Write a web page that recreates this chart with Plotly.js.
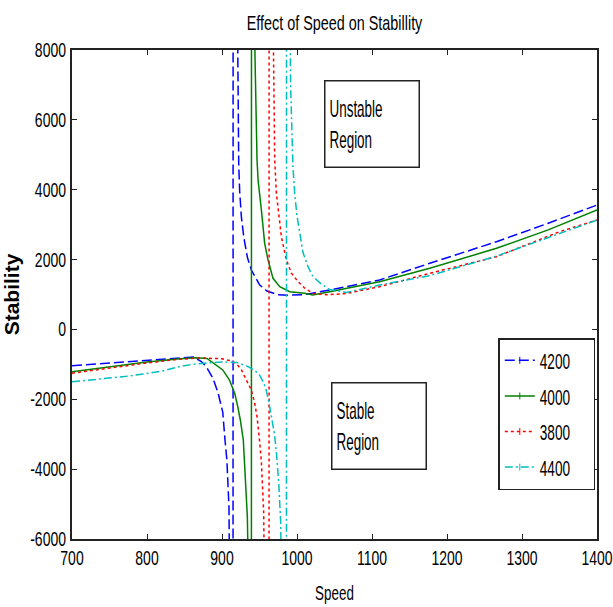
<!DOCTYPE html>
<html>
<head>
<meta charset="utf-8">
<script src="https://cdn.plot.ly/plotly-3.0.1.min.js"></script>
<style>html,body{margin:0;padding:0;background:#fff;}#chart{width:613px;height:607px;}</style>
</head>
<body>
<div id="chart"></div>
<script>
// Series names (legend order)
var seriesNames = ["4200", "4000", "3800", "4400"];

// 4200: speed / stability (values far outside the axis are the off-scale asymptote points)
var speed4200 = [700, 750, 800, 840, 862, 872.5, 879, 888, 895, 897, 901, 904, 906.5, 909.3, 910.5, 912, 914.5,
  915, 919.5, 921, 922.3, 923.6, 925.8, 929.3, 934, 939.2, 950.3, 960, 974.7, 990, 1010, 1043.6, 1066, 1110, 1177, 1266, 1335, 1400];
var stab4200 = [-1040, -960, -880, -810, -790, -920, -1067, -1400, -1830, -2020, -2364, -3166, -3740, -5080, -6800, -12000, -50000,
  50000, 12000, 7000, 4707, 3945, 3229, 2608, 2050, 1701, 1272, 1100, 990, 980, 995, 1130, 1224, 1415, 1893, 2512, 3040, 3562];

// 4000
var speed4000 = [700, 750, 800, 840, 865, 880, 890, 901, 910, 917, 921, 924.5, 928.4, 931.6, 933.8, 935, 937, 939,
  939.5, 942.5, 944, 946.7, 948.1, 952.5, 956.9, 961.4, 968, 977, 990.3, 1010, 1021, 1043.6, 1066, 1110, 1177, 1266, 1335, 1400];
var stab4000 = [-1210, -1060, -930, -850, -810, -830, -980, -1160, -1450, -1830, -2210, -2600, -3166, -4300, -5360, -6800, -12000, -50000,
  50000, 12000, 7800, 4851, 4278, 3419, 2465, 1988, 1463, 1224, 1081, 1034, 986, 1081, 1180, 1367, 1750, 2322, 2850, 3419];

// 3800
var speed3800 = [700, 750, 800, 840, 870, 900, 910, 919, 926, 932.5, 939, 943.6, 946.7, 950, 952.6, 955.6, 957, 960, 962.5,
  963, 966.5, 968.5, 970.3, 972.5, 974.7, 979.2, 985.9, 992.5, 1001.4, 1010.3, 1021.7, 1040, 1066, 1110, 1177, 1266, 1350, 1400];
var stab3800 = [-1254, -1100, -960, -860, -815, -840, -890, -970, -1160, -1450, -1730, -2110, -2500, -3170, -3830, -5260, -7000, -15000, -50000,
  50000, 12000, 7000, 4850, 3900, 3420, 2650, 1990, 1610, 1370, 1180, 1030, 990, 1030, 1224, 1606, 2082, 2798, 3133];

// 4400
var speed4400 = [700, 730, 770, 800, 820, 840, 860, 880, 900, 920, 935, 945, 950, 955, 959, 963.6, 966, 970, 972.6, 975.7, 978.3, 980, 983, 985.7,
  986.2, 989.5, 991.5, 994.5, 996.9, 1000, 1003.6, 1008, 1014.7, 1020, 1026, 1032.5, 1043.6, 1066, 1110, 1177, 1266, 1376, 1400];
var stab4400 = [-1497, -1430, -1350, -1260, -1190, -1080, -1000, -960, -930, -950, -1067, -1200, -1305, -1500, -1734, -2211, -2550, -3000, -3546, -4406, -5551, -7500, -15000, -50000,
  50000, 12000, 7000, 4700, 3900, 3250, 2720, 2200, 1796, 1560, 1420, 1300, 1140, 1060, 1270, 1540, 2100, 2941, 3130];

// Axis ticks
var xTickVals = [700, 800, 900, 1000, 1100, 1200, 1300, 1400];
var xTickText = ["700", "800", "900", "1000", "1100", "1200", "1300", "1400"];
var yTickVals = [8000, 6000, 4000, 2000, 0, -2000, -4000, -6000];
var yTickText = ["8000", "6000", "4000", "2000", "0", "-2000", "-4000", "-6000"];

var colors = ["#0000ff", "#008000", "#ff0000", "#00bfbf"];
var dashes = ["10px,4px", "solid", "3px,3px", "8px,3px,2px,3px"];
var xs = [speed4200, speed4000, speed3800, speed4400];
var ys = [stab4200, stab4000, stab3800, stab4400];

var FONT = "'Liberation Sans', Arial, sans-serif";

var traces = [];
for (var i = 0; i < 4; i++) {
  traces.push({
    type: "scatter", mode: "lines", x: xs[i], y: ys[i], name: seriesNames[i],
    line: {color: colors[i], width: 1.5, dash: dashes[i]},
    showlegend: false, hoverinfo: "skip"
  });
}
for (var j = 0; j < 4; j++) {
  traces.push({
    type: "scatter", mode: "lines+markers", x: [null], y: [null], name: seriesNames[j],
    legendgroup: "g" + j,
    line: {color: colors[j], width: 1.5, dash: dashes[j]},
    marker: {symbol: "line-ns-open", size: 5, color: colors[j], line: {color: colors[j], width: 1}},
    showlegend: true
  });
}

var layout = {
  width: 613, height: 607,
  margin: {l: 72, r: 16, t: 50, b: 68},
  paper_bgcolor: "#fff", plot_bgcolor: "#fff",
  font: {family: FONT, size: 20, color: "#000"},
  title: {text: "Effect of Speed on Stabillity", x: 0.5, xref: "paper", y: 1 - 23 / 607, yanchor: "middle",
    font: {family: FONT, size: 20, color: "#000"}},
  xaxis: {
    range: [700, 1400], tickvals: xTickVals, ticktext: xTickText, ticklabeloverflow: "allow",
    showgrid: false, zeroline: false, showline: true, linecolor: "#222", linewidth: 2,
    mirror: "ticks", ticks: "inside", ticklen: 5, tickcolor: "#222", tickwidth: 1,
    tickfont: {family: FONT, size: 20, color: "#000"},
    title: {text: "Speed", font: {family: FONT, size: 20, color: "#000"}, standoff: 18}
  },
  yaxis: {
    range: [-6000, 8000], tickvals: yTickVals, ticktext: yTickText, ticklabeloverflow: "allow",
    showgrid: false, zeroline: false, showline: true, linecolor: "#222", linewidth: 2,
    mirror: "ticks", ticks: "inside", ticklen: 5, tickcolor: "#222", tickwidth: 1,
    tickfont: {family: FONT, size: 20, color: "#000"},
    title: {text: "<b>Stability</b>", font: {family: FONT, size: 21, color: "#000"}, standoff: 3}
  },
  legend: {
    x: 0.812, y: 0.411, xanchor: "left", yanchor: "top",
    bgcolor: "#fff", bordercolor: "#222", borderwidth: 1.5,
    font: {family: FONT, size: 22, color: "#000"},
    traceorder: "grouped", tracegroupgap: 4, itemwidth: 30
  },
  annotations: [
    {xref: "paper", yref: "paper", x: 0.48, y: 0.939, xanchor: "left", yanchor: "top",
     text: "Unstable<br>Region", showarrow: false, align: "left", valign: "middle",
     width: 85, height: 77, borderpad: 4, bordercolor: "#222", borderwidth: 1.5, bgcolor: "#fff",
     font: {family: FONT, size: 24, color: "#000"}},
    {xref: "paper", yref: "paper", x: 0.493, y: 0.321, xanchor: "left", yanchor: "top",
     text: "Stable<br>Region", showarrow: false, align: "left", valign: "middle",
     width: 85, height: 77, borderpad: 4, bordercolor: "#222", borderwidth: 1.5, bgcolor: "#fff",
     font: {family: FONT, size: 24, color: "#000"}}
  ],
  showlegend: true
};

// horizontal compression of the text, to mimic the narrow lettering of the original
function squeeze(gd, selector, s) {
  gd.querySelectorAll(selector).forEach(function (t) {
    var x = parseFloat(t.getAttribute("x")) || 0;
    var tr = t.getAttribute("transform") || "";
    t.setAttribute("transform", tr + " translate(" + x + ",0) scale(" + s + ",1) translate(" + (-x) + ",0)");
  });
}

Plotly.newPlot("chart", traces, layout, {displayModeBar: false, staticPlot: true}).then(function (gd) {
  squeeze(gd, ".xtick text", 0.7);
  squeeze(gd, ".ytick text", 0.7);
  squeeze(gd, ".gtitle", 0.72);
  squeeze(gd, ".xtitle", 0.67);
  squeeze(gd, ".legendtext", 0.62);
  squeeze(gd, ".annotation-text", 0.56);
  gd.querySelectorAll(".annotation [clip-path], .annotation-text-g [clip-path]").forEach(function (e) {
    e.removeAttribute("clip-path");
  });
});
</script>
</body>
</html>
